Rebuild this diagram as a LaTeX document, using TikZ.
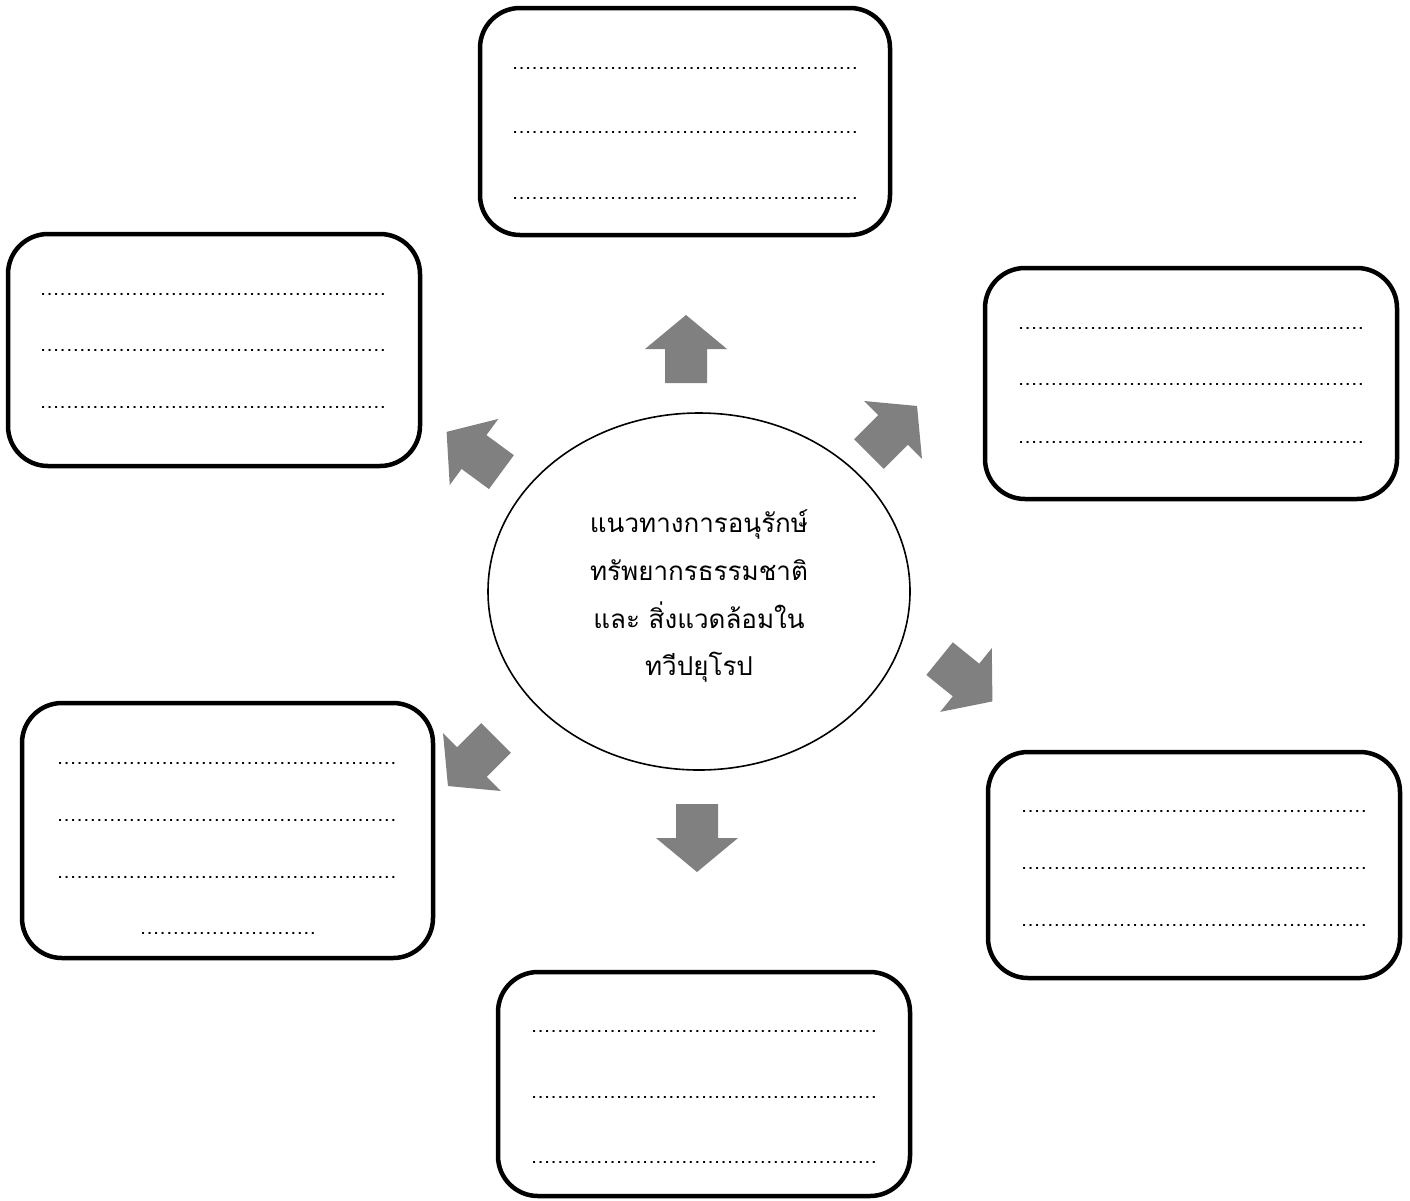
\documentclass[tikz,border=0pt]{standalone}
\usepackage{fontspec}
\newfontfamily\thaifont[Script=Thai]{Loma}
\usetikzlibrary{shapes.geometric}
\definecolor{arrowgray}{HTML}{808080}
\newcommand\dotrow[1]{\hbox to \dimexpr 6.53pt*#1\relax{\leaders\hbox to 6.53pt{\hss.\hss}\hfill}}
\tikzset{
  answerbox/.style={draw=black, line width=4.5pt, rounded corners=40pt, inner sep=0pt, fill=white},
  dots/.style={anchor=base west, inner sep=0pt, font=\thaifont\fontsize{20}{20}\selectfont},
  centretext/.style={anchor=base, inner sep=0pt, font=\thaifont\fontsize{26}{26}\selectfont},
  blockarrow/.style={fill=arrowgray, draw=none}
}
\newcommand\blockarr[3]{%
  \begin{scope}[shift={(#1,#2)}, rotate=#3]
    \fill[blockarrow] (-34,-21) -- (0,-21) -- (0,-41) -- (34,0) -- (0,41) -- (0,21) -- (-34,21) -- cycle;
  \end{scope}}
\begin{document}
\begin{tikzpicture}[x=1pt, y=-1pt]
\useasboundingbox (0,0) rectangle (1410,1200);
\fill[white] (0,0) rectangle (1410,1200);

% central ellipse
\node[ellipse, draw=black, line width=1.6pt, inner sep=0pt, minimum width=422pt, minimum height=357pt] (C) at (699,591.5) {};
\node[centretext] (c1) at (699,532) {แนวทางการอนุรักษ์};
\node[centretext] (c2) at (699,580) {ทรัพยากรธรรมชาติ};
\node[centretext] (c3) at (699,628) {และ สิ่งแวดล้อมใน};
\node[centretext] (c4) at (699,675) {ทวีปยุโรป};

% boxes
\node[answerbox, minimum width=410pt, minimum height=227pt] (T) at (685,121.5) {};
\node[answerbox, minimum width=412pt, minimum height=232pt] (UL) at (214,350) {};
\node[answerbox, minimum width=412pt, minimum height=231pt] (UR) at (1191,383.5) {};
\node[answerbox, minimum width=411pt, minimum height=255pt] (LL) at (227.5,830.5) {};
\node[answerbox, minimum width=412pt, minimum height=226pt] (LR) at (1194,865) {};
\node[answerbox, minimum width=412pt, minimum height=224pt] (B) at (704,1084) {};

% dotted answer lines
\node[dots] (T1) at (511.7,69) {\dotrow{53}};
\node[dots] (T2) at (511.7,133) {\dotrow{53}};
\node[dots] (T3) at (511.7,199) {\dotrow{53}};

\node[dots] (UL1) at (39.7,295) {\dotrow{53}};
\node[dots] (UL2) at (39.7,351) {\dotrow{53}};
\node[dots] (UL3) at (39.7,408) {\dotrow{53}};

\node[dots] (UR1) at (1017.7,329) {\dotrow{53}};
\node[dots] (UR2) at (1017.7,385) {\dotrow{53}};
\node[dots] (UR3) at (1017.7,443) {\dotrow{53}};

\node[dots] (LL1) at (56.7,764) {\dotrow{52}};
\node[dots] (LL2) at (56.7,821) {\dotrow{52}};
\node[dots] (LL3) at (56.7,878) {\dotrow{52}};
\node[dots] (LL4) at (139.7,934) {\dotrow{27}};

\node[dots] (LR1) at (1020.7,812) {\dotrow{53}};
\node[dots] (LR2) at (1020.7,869) {\dotrow{53}};
\node[dots] (LR3) at (1020.7,926) {\dotrow{53}};

\node[dots] (B1) at (530.7,1032) {\dotrow{53}};
\node[dots] (B2) at (530.7,1098) {\dotrow{53}};
\node[dots] (B3) at (530.7,1163) {\dotrow{53}};

% block arrows
\blockarr{686}{349}{90}
\blockarr{893}{430}{45}
\blockarr{474}{452}{143.7}
\blockarr{966}{680}{-39}
\blockarr{697}{838}{-90}
\blockarr{472}{762}{225}
\end{tikzpicture}
\end{document}
